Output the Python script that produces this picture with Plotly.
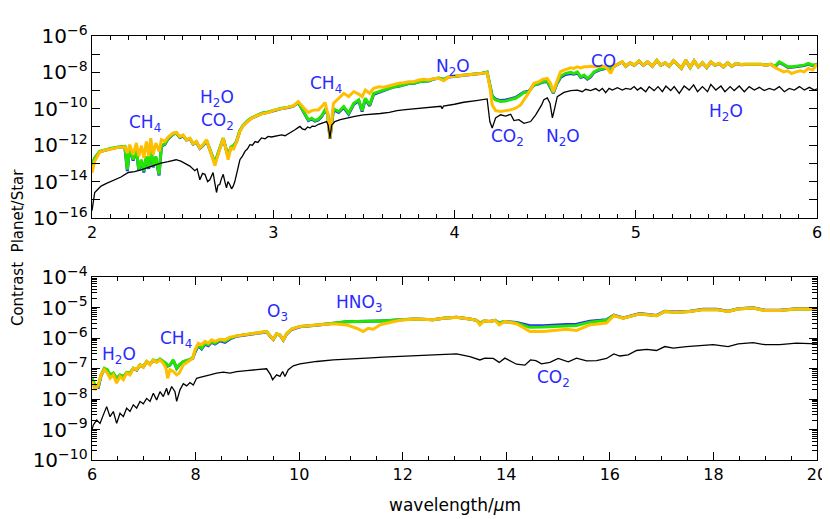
import numpy as np
import plotly.graph_objects as go

# ---- upper panel, 2-6 um (values are log10 of contrast) ----
top_wave = [2.000, 2.015, 2.042, 2.070, 2.107, 2.144, 2.181, 2.195, 2.208, 2.227,
            2.245, 2.258, 2.273, 2.286, 2.300, 2.313, 2.324, 2.337, 2.352, 2.370,
            2.383, 2.402, 2.420, 2.448, 2.466, 2.484, 2.503, 2.521, 2.540, 2.558,
            2.576, 2.595, 2.613, 2.632, 2.650, 2.663, 2.678, 2.696, 2.711, 2.724,
            2.737, 2.751, 2.766, 2.781, 2.797, 2.816, 2.834, 2.858, 2.880, 2.908,
            2.936, 2.972, 3.009, 3.046, 3.083, 3.111, 3.138, 3.157, 3.175, 3.194,
            3.212, 3.230, 3.249, 3.267, 3.286, 3.300, 3.313, 3.332, 3.361, 3.389,
            3.416, 3.444, 3.472, 3.490, 3.508, 3.532, 3.554, 3.582, 3.610, 3.637,
            3.665, 3.693, 3.720, 3.748, 3.775, 3.803, 3.831, 3.858, 3.886, 3.913,
            3.941, 3.969, 4.006, 4.042, 4.079, 4.116, 4.153, 4.180, 4.195, 4.208,
            4.227, 4.254, 4.282, 4.309, 4.337, 4.365, 4.383, 4.410, 4.438, 4.466,
            4.485, 4.512, 4.530, 4.545, 4.564, 4.586, 4.613, 4.641, 4.659, 4.678,
            4.696, 4.715, 4.733, 4.751, 4.770, 4.798, 4.825, 4.843, 4.862, 4.880,
            4.908, 4.926, 4.945, 4.969, 4.991, 5.018, 5.042, 5.065, 5.092, 5.116,
            5.138, 5.162, 5.184, 5.208, 5.230, 5.252, 5.276, 5.300, 5.322, 5.346,
            5.368, 5.392, 5.414, 5.438, 5.460, 5.484, 5.507, 5.530, 5.553, 5.580,
            5.608, 5.635, 5.663, 5.691, 5.718, 5.746, 5.768, 5.792, 5.816, 5.838,
            5.860, 5.884, 5.908, 5.930, 5.952, 5.976, 6.000]

top_gold = [-13.52, -12.88, -12.39, -12.28, -12.21, -12.12, -12.10, -12.43, -11.97, -12.52,
            -11.88, -12.61, -12.03, -12.70, -11.79, -12.61, -11.61, -12.52, -11.88, -12.34,
            -11.70, -11.79, -11.55, -11.33, -11.30, -11.52, -11.43, -11.70, -11.61, -11.92,
            -11.79, -12.15, -11.97, -11.70, -12.25, -12.61, -13.12, -12.52, -12.06, -11.61,
            -12.15, -12.79, -12.15, -12.21, -11.84, -11.24, -10.93, -10.70, -10.52, -10.39,
            -10.28, -10.21, -10.06, -9.99, -9.91, -9.84, -9.60, -9.84, -10.02, -10.21,
            -10.10, -10.06, -10.06, -9.88, -9.66, -10.24, -11.61, -9.70, -9.42, -9.15,
            -9.33, -9.06, -9.19, -9.33, -8.97, -9.15, -8.88, -8.79, -8.82, -8.75,
            -8.64, -8.60, -8.57, -8.51, -8.51, -8.42, -8.38, -8.42, -8.33, -8.33,
            -8.46, -8.24, -8.20, -8.17, -8.13, -8.09, -8.06, -8.02, -8.79, -9.79,
            -10.10, -10.15, -10.10, -10.06, -9.97, -9.79, -9.51, -9.11, -8.60, -8.51,
            -8.38, -8.33, -8.60, -9.06, -8.51, -7.95, -7.85, -7.75, -7.78, -7.69,
            -7.75, -7.69, -7.69, -7.66, -7.69, -7.66, -7.66, -7.78, -8.06, -7.66,
            -7.51, -7.42, -7.66, -7.47, -7.60, -7.38, -7.60, -7.42, -7.66, -7.33,
            -7.60, -7.47, -7.66, -7.36, -7.55, -7.78, -7.33, -7.73, -7.36, -7.69,
            -7.47, -7.73, -7.42, -7.60, -7.51, -7.69, -7.47, -7.66, -7.51, -7.57,
            -7.55, -7.55, -7.51, -7.55, -7.60, -7.55, -7.73, -7.87, -7.97, -7.91,
            -8.06, -7.97, -7.91, -7.97, -7.78, -7.87, -7.55]

top_green = [-13.06, -12.70, -12.34, -12.25, -12.17, -12.10, -12.06, -13.34, -12.10, -12.79,
             -12.21, -13.34, -12.79, -13.43, -12.61, -13.25, -12.03, -13.16, -12.61, -13.61,
             -12.03, -11.92, -11.63, -11.37, -11.33, -11.55, -11.48, -11.70, -11.63, -11.92,
             -11.81, -12.15, -11.99, -11.74, -12.25, -12.61, -12.97, -12.43, -12.03, -11.61,
             -12.10, -12.61, -12.10, -12.03, -11.79, -11.19, -10.90, -10.66, -10.50, -10.35,
             -10.24, -10.17, -10.06, -9.97, -9.91, -9.84, -9.64, -9.97, -10.33, -10.61,
             -10.52, -10.64, -10.57, -10.39, -10.06, -10.24, -11.61, -10.00, -10.15, -9.88,
             -10.24, -9.70, -9.51, -10.10, -9.42, -9.79, -9.15, -9.06, -8.97, -8.88,
             -8.79, -8.75, -8.69, -8.60, -8.60, -8.51, -8.48, -8.46, -8.35, -8.31,
             -8.38, -8.24, -8.20, -8.17, -8.13, -8.09, -8.04, -7.98, -8.79, -9.33,
             -9.51, -9.60, -9.57, -9.51, -9.42, -9.24, -9.11, -9.06, -8.69, -8.60,
             -8.51, -8.46, -8.79, -9.11, -8.60, -8.20, -8.05, -8.00, -8.06, -7.97,
             -8.24, -8.15, -8.33, -8.20, -7.97, -7.84, -7.78, -7.69, -7.78, -7.66,
             -7.51, -7.42, -7.66, -7.47, -7.60, -7.38, -7.60, -7.42, -7.66, -7.33,
             -7.60, -7.47, -7.66, -7.36, -7.55, -7.78, -7.33, -7.73, -7.36, -7.69,
             -7.47, -7.73, -7.42, -7.60, -7.51, -7.69, -7.47, -7.66, -7.51, -7.57,
             -7.55, -7.55, -7.51, -7.55, -7.60, -7.55, -7.66, -7.42, -7.55, -7.69,
             -7.69, -7.66, -7.62, -7.60, -7.51, -7.60, -7.55]

top_blue = [-13.10, -12.72, -12.36, -12.27, -12.19, -12.12, -12.08, -13.43, -12.12, -12.85,
            -12.24, -13.40, -12.83, -13.50, -12.66, -13.30, -12.06, -13.22, -12.66, -13.66,
            -12.06, -11.95, -11.65, -11.39, -11.35, -11.57, -11.50, -11.72, -11.65, -11.94,
            -11.83, -12.17, -12.01, -11.76, -12.27, -12.63, -12.99, -12.45, -12.05, -11.63,
            -12.12, -12.63, -12.12, -12.05, -11.81, -11.21, -10.92, -10.68, -10.52, -10.37,
            -10.26, -10.19, -10.08, -9.99, -9.93, -9.86, -9.66, -10.00, -10.37, -10.65,
            -10.56, -10.68, -10.61, -10.43, -10.10, -10.28, -11.65, -10.05, -10.20, -9.93,
            -10.30, -9.75, -9.56, -10.15, -9.47, -9.84, -9.20, -9.10, -9.00, -8.90,
            -8.80, -8.76, -8.70, -8.61, -8.61, -8.52, -8.49, -8.47, -8.36, -8.32,
            -8.39, -8.25, -8.21, -8.18, -8.14, -8.10, -8.05, -7.99, -8.79, -9.30,
            -9.47, -9.55, -9.52, -9.47, -9.38, -9.20, -9.08, -9.03, -8.70, -8.63,
            -8.54, -8.50, -8.82, -9.14, -8.64, -8.26, -8.11, -8.06, -8.10, -8.02,
            -8.28, -8.20, -8.37, -8.25, -8.00, -7.87, -7.80, -7.71, -7.80, -7.67,
            -7.52, -7.43, -7.67, -7.48, -7.61, -7.39, -7.61, -7.43, -7.67, -7.34,
            -7.61, -7.48, -7.67, -7.37, -7.56, -7.79, -7.34, -7.74, -7.37, -7.70,
            -7.48, -7.74, -7.43, -7.61, -7.52, -7.70, -7.48, -7.67, -7.52, -7.58,
            -7.56, -7.56, -7.52, -7.56, -7.61, -7.56, -7.69, -7.45, -7.58, -7.72,
            -7.72, -7.69, -7.65, -7.63, -7.54, -7.63, -7.57]

# black curve (wavelength, log10 contrast)
top_black = [(2.000, -15.6), (2.008, -15.0), (2.015, -14.6), (2.030, -14.45), (2.050, -14.25),
             (2.080, -14.1), (2.125, -13.9), (2.160, -13.75), (2.200, -13.5), (2.235, -13.45),
             (2.270, -13.35), (2.310, -13.2), (2.346, -13.07), (2.380, -12.98), (2.420, -12.9),
             (2.464, -12.8), (2.490, -12.88), (2.510, -13.0), (2.540, -13.15), (2.567, -13.4),
             (2.580, -13.3), (2.595, -13.9), (2.610, -13.55), (2.623, -13.6), (2.638, -14.0),
             (2.650, -13.9), (2.668, -13.5), (2.678, -14.1), (2.687, -14.6), (2.695, -14.2),
             (2.705, -14.16), (2.714, -13.85), (2.724, -13.6), (2.733, -14.0), (2.742, -14.35),
             (2.750, -14.0), (2.760, -14.16), (2.770, -14.4), (2.779, -14.25), (2.788, -14.0),
             (2.797, -13.6), (2.806, -13.3), (2.816, -12.8), (2.830, -12.6), (2.844, -12.34),
             (2.858, -12.2), (2.871, -11.97), (2.885, -12.0), (2.900, -11.8), (2.915, -11.85),
             (2.935, -11.6), (2.955, -11.65), (2.972, -11.52), (2.990, -11.55), (3.010, -11.5),
             (3.028, -11.47), (3.046, -11.43), (3.065, -11.48), (3.083, -11.38), (3.100, -11.3),
             (3.120, -11.15), (3.135, -11.05), (3.147, -10.97), (3.160, -11.1), (3.175, -11.15),
             (3.190, -11.0), (3.203, -11.06), (3.215, -10.95), (3.230, -10.97), (3.250, -10.85),
             (3.267, -10.8), (3.280, -10.75), (3.294, -10.7), (3.303, -10.9), (3.313, -11.6),
             (3.322, -10.9), (3.340, -10.7), (3.370, -10.6), (3.407, -10.5), (3.450, -10.42),
             (3.497, -10.33), (3.550, -10.3), (3.590, -10.26), (3.640, -10.2), (3.683, -10.1),
             (3.730, -10.05), (3.773, -10.0), (3.820, -9.95), (3.867, -9.9), (3.925, -9.86),
             (3.932, -10.0), (3.939, -9.85), (4.000, -9.75), (4.051, -9.64), (4.120, -9.55),
             (4.180, -9.46), (4.195, -10.7), (4.208, -11.06), (4.227, -10.5), (4.254, -10.33),
             (4.282, -10.4), (4.310, -10.3), (4.328, -10.65), (4.355, -10.6), (4.383, -10.8),
             (4.420, -10.7), (4.448, -10.33), (4.466, -10.04), (4.480, -9.8), (4.493, -9.5),
             (4.512, -9.4), (4.527, -9.7), (4.540, -10.5), (4.552, -10.0), (4.567, -9.33),
             (4.604, -9.1), (4.641, -9.00), (4.678, -8.97), (4.705, -9.06), (4.724, -8.93),
             (4.751, -9.00), (4.779, -8.89), (4.798, -9.02), (4.816, -8.88), (4.834, -9.11),
             (4.853, -8.88), (4.871, -8.97), (4.899, -8.84), (4.926, -8.97), (4.945, -8.88),
             (4.972, -8.93), (4.991, -8.78), (5.009, -8.97), (5.028, -8.84), (5.055, -9.06),
             (5.074, -8.78), (5.101, -9.00), (5.123, -8.78), (5.147, -9.06), (5.166, -8.75),
             (5.193, -9.00), (5.212, -8.78), (5.240, -9.15), (5.267, -8.75), (5.295, -8.97),
             (5.319, -8.69), (5.341, -9.06), (5.368, -8.78), (5.396, -9.06), (5.414, -8.66),
             (5.442, -8.97), (5.470, -8.75), (5.492, -9.06), (5.521, -8.78), (5.543, -9.00),
             (5.571, -8.75), (5.599, -9.06), (5.626, -8.78), (5.654, -8.97), (5.682, -8.82),
             (5.709, -9.00), (5.737, -8.88), (5.764, -8.97), (5.792, -8.78), (5.820, -9.06),
             (5.847, -8.88), (5.875, -8.97), (5.903, -8.78), (5.930, -8.97), (5.958, -8.82),
             (5.985, -8.97), (6.000, -8.90)]

# ---- lower panel, 6-20 um ----
bot_wave = [6.000, 6.058, 6.122, 6.174, 6.238, 6.296, 6.348, 6.412, 6.476, 6.541,
            6.605, 6.669, 6.734, 6.798, 6.862, 6.927, 6.991, 7.055, 7.120, 7.184,
            7.248, 7.313, 7.377, 7.429, 7.461, 7.506, 7.570, 7.635, 7.686, 7.763,
            7.860, 7.944, 7.988, 8.053, 8.117, 8.181, 8.246, 8.310, 8.375, 8.471,
            8.568, 8.664, 8.793, 8.922, 9.050, 9.211, 9.372, 9.449, 9.501, 9.565,
            9.630, 9.694, 9.758, 9.855, 10.016, 10.337, 10.659, 10.917, 11.109, 11.238,
            11.335, 11.431, 11.560, 11.753, 11.946, 12.250, 12.396, 12.589, 12.783, 13.040,
            13.297, 13.426, 13.490, 13.568, 13.683, 13.780, 13.864, 13.973, 14.198, 14.455,
            14.713, 14.970, 15.163, 15.357, 15.614, 15.936, 16.077, 16.258, 16.579, 16.901,
            17.062, 17.287, 17.545, 17.802, 18.059, 18.284, 18.477, 18.767, 18.992, 19.282,
            19.603, 20.000]

bot_gold = [-7.43, -7.70, -7.54, -7.21, -7.04, -7.15, -7.32, -7.21, -7.48, -7.26,
            -7.37, -7.15, -7.21, -6.99, -7.04, -6.88, -6.96, -6.77, -6.88, -6.72,
            -6.80, -6.72, -6.83, -6.99, -7.32, -7.04, -7.10, -7.21, -7.15, -6.88,
            -6.77, -6.66, -6.39, -6.17, -6.22, -6.11, -6.17, -6.06, -6.11, -6.04,
            -6.06, -5.97, -5.93, -5.90, -5.86, -5.82, -5.79, -5.95, -6.04, -5.86,
            -5.90, -6.06, -5.86, -5.71, -5.62, -5.57, -5.53, -5.57, -5.68, -5.79,
            -5.68, -5.71, -5.57, -5.49, -5.42, -5.38, -5.38, -5.40, -5.35, -5.32,
            -5.38, -5.42, -5.57, -5.44, -5.46, -5.42, -5.57, -5.46, -5.53, -5.79,
            -5.79, -5.75, -5.71, -5.75, -5.57, -5.51, -5.27, -5.35, -5.21, -5.27,
            -5.13, -5.16, -5.13, -5.07, -5.07, -5.13, -5.05, -5.02, -5.10, -5.10,
            -5.05, -5.05]

bot_green = [-7.32, -7.54, -7.59, -7.21, -6.99, -7.04, -7.21, -7.15, -7.32, -7.21,
             -7.26, -7.13, -7.15, -6.99, -7.04, -6.88, -6.94, -6.77, -6.85, -6.72,
             -6.77, -6.69, -6.77, -6.83, -6.91, -6.88, -6.72, -6.99, -6.88, -6.77,
             -6.72, -6.66, -6.44, -6.22, -6.33, -6.17, -6.22, -6.11, -6.17, -6.06,
             -6.11, -6.01, -5.93, -5.90, -5.86, -5.82, -5.79, -5.95, -6.04, -5.86,
             -5.90, -6.06, -5.86, -5.71, -5.62, -5.57, -5.51, -5.47, -5.46, -5.46,
             -5.46, -5.45, -5.44, -5.43, -5.40, -5.38, -5.38, -5.40, -5.35, -5.32,
             -5.38, -5.42, -5.51, -5.44, -5.46, -5.42, -5.51, -5.46, -5.51, -5.65,
             -5.64, -5.62, -5.60, -5.59, -5.48, -5.42, -5.26, -5.35, -5.21, -5.27,
             -5.13, -5.16, -5.13, -5.07, -5.07, -5.13, -5.05, -5.02, -5.10, -5.10,
             -5.05, -5.05]

bot_blue = [-7.34, -7.60, -7.62, -7.24, -7.02, -7.06, -7.23, -7.17, -7.34, -7.23,
            -7.28, -7.15, -7.17, -7.00, -7.05, -6.89, -6.95, -6.78, -6.86, -6.73,
            -6.78, -6.70, -6.78, -6.84, -6.92, -6.89, -6.73, -7.00, -6.89, -6.78,
            -6.73, -6.67, -6.47, -6.25, -6.36, -6.20, -6.25, -6.14, -6.20, -6.09,
            -6.14, -6.03, -5.94, -5.91, -5.87, -5.83, -5.80, -5.96, -6.05, -5.87,
            -5.91, -6.07, -5.87, -5.72, -5.63, -5.58, -5.51, -5.47, -5.46, -5.46,
            -5.46, -5.45, -5.44, -5.43, -5.40, -5.38, -5.38, -5.40, -5.35, -5.32,
            -5.38, -5.42, -5.51, -5.44, -5.46, -5.42, -5.51, -5.46, -5.49, -5.60,
            -5.60, -5.57, -5.56, -5.55, -5.45, -5.40, -5.25, -5.34, -5.20, -5.26,
            -5.12, -5.15, -5.12, -5.06, -5.06, -5.12, -5.04, -5.01, -5.09, -5.09,
            -5.04, -5.04]

bot_black = [(6.000, -9.0), (6.026, -8.85), (6.090, -8.69), (6.155, -8.80), (6.219, -8.52),
             (6.283, -8.25), (6.348, -8.58), (6.412, -8.41), (6.476, -8.80), (6.541, -8.47),
             (6.605, -8.58), (6.669, -8.30), (6.734, -8.41), (6.798, -8.19), (6.862, -8.30),
             (6.927, -8.08), (6.991, -8.16), (7.055, -7.98), (7.120, -8.08), (7.184, -7.81),
             (7.248, -8.03), (7.313, -7.76), (7.377, -7.92), (7.441, -7.65), (7.474, -7.87),
             (7.538, -7.59), (7.602, -7.76), (7.635, -8.08), (7.699, -7.70), (7.763, -7.50),
             (7.828, -7.57), (7.892, -7.46), (7.956, -7.54), (8.020, -7.32), (8.085, -7.29),
             (8.181, -7.26), (8.278, -7.21), (8.407, -7.15), (8.536, -7.12), (8.664, -7.15),
             (8.793, -7.10), (8.986, -7.07), (9.179, -7.04), (9.372, -7.01), (9.449, -7.21),
             (9.488, -7.37), (9.565, -7.21), (9.630, -7.26), (9.681, -7.10), (9.726, -7.26),
             (9.790, -7.04), (9.887, -6.91), (10.016, -6.85), (10.337, -6.77), (10.659, -6.72),
             (10.981, -6.68), (11.303, -6.66), (11.624, -6.63), (11.946, -6.61), (12.268, -6.57),
             (12.525, -6.57), (13.040, -6.52), (13.297, -6.61), (13.490, -6.72), (13.587, -6.66),
             (13.748, -6.67), (13.864, -6.80), (13.973, -6.66), (14.198, -6.86), (14.359, -6.89),
             (14.468, -6.72), (14.571, -6.74), (14.681, -6.85), (14.842, -6.80), (15.003, -6.67),
             (15.196, -6.78), (15.357, -6.66), (15.550, -6.75), (15.743, -6.74), (15.936, -6.67),
             (16.077, -6.52), (16.193, -6.59), (16.354, -6.55), (16.515, -6.41), (16.708, -6.37),
             (16.901, -6.41), (17.062, -6.28), (17.223, -6.33), (17.480, -6.28), (17.737, -6.26),
             (17.995, -6.22), (18.284, -6.28), (18.477, -6.19), (18.767, -6.15), (18.992, -6.22),
             (19.282, -6.22), (19.603, -6.17), (20.000, -6.19)]

# molecule labels: (text, wavelength, log10 contrast)
top_labels = [("CH<sub>4</sub>", 2.293, -10.83), ("H<sub>2</sub>O", 2.69, -9.46),
              ("CO<sub>2</sub>", 2.69, -10.72), ("CH<sub>4</sub>", 3.293, -8.69),
              ("N<sub>2</sub>O", 3.994, -7.71), ("CO<sub>2</sub>", 4.293, -11.59),
              ("N<sub>2</sub>O", 4.597, -11.59), ("CO", 4.823, -7.38),
              ("H<sub>2</sub>O", 5.497, -10.22)]
bot_labels = [("H<sub>2</sub>O", 6.52, -6.58), ("CH<sub>4</sub>", 7.62, -6.06),
              ("O<sub>3</sub>", 9.59, -5.17), ("HNO<sub>3</sub>", 11.15, -4.88),
              ("CO<sub>2</sub>", 14.92, -7.34)]

assert len(top_wave) == len(top_gold) == len(top_green) == len(top_blue)
assert len(bot_wave) == len(bot_gold) == len(bot_green) == len(bot_blue)

BLUE = '#2a2aff'
GREEN = '#22e600'
GOLD = '#ffbf00'
FONT = 'DejaVu Sans'

fig = go.Figure()
for xs, ys, xa, ya in [(top_wave, (top_blue, top_green, top_gold), 'x', 'y'),
                       (bot_wave, (bot_blue, bot_green, bot_gold), 'x2', 'y2')]:
    for y, col in zip(ys, (BLUE, GREEN, GOLD)):
        fig.add_trace(go.Scatter(x=xs, y=10 ** np.array(y), mode='lines',
                                 line=dict(color=col, width=3), xaxis=xa, yaxis=ya))

for pts, xa, ya in [(top_black, 'x', 'y'), (bot_black, 'x2', 'y2')]:
    wx, wy = zip(*pts)
    fig.add_trace(go.Scatter(x=wx, y=10 ** np.array(wy), mode='lines',
                             line=dict(color='black', width=1.3), xaxis=xa, yaxis=ya))

ax = dict(showline=True, linecolor='black', linewidth=1.3, mirror='allticks',
          ticks='inside', tickcolor='black', showgrid=False, zeroline=False,
          automargin=False, tickfont=dict(family=FONT, size=16, color='black'))
logax = dict(type='log', exponentformat='power', showexponent='all')
minor_tk = dict(ticks='inside', tickcolor='black', showgrid=False)

# the page body adds an 8px offset, so the figure is 8px smaller than the window
fig.update_layout(
    width=822, height=511, showlegend=False,
    paper_bgcolor='white', plot_bgcolor='white',
    margin=dict(l=84, r=13, t=28, b=59, autoexpand=False),
    xaxis=dict(ax, domain=[0, 1], anchor='y', range=[2, 6],
               tickmode='linear', tick0=2, dtick=1, ticklen=8,
               minor=dict(minor_tk, dtick=0.1, ticklen=4)),
    yaxis=dict(ax, **logax, domain=[0.5708, 1], anchor='x', range=[-16, -6],
               tickmode='linear', tick0=0, dtick=2, ticklen=8,
               minor=dict(minor_tk, dtick=1, ticklen=8)),
    xaxis2=dict(ax, domain=[0, 1], anchor='y2', range=[6, 20],
                tickmode='linear', tick0=6, dtick=2, ticklen=8,
                minor=dict(minor_tk, dtick=0.5, ticklen=4)),
    yaxis2=dict(ax, **logax, domain=[0, 0.4316], anchor='x2', range=[-10, -4],
                tickmode='linear', tick0=0, dtick=1, ticklen=8,
                minor=dict(minor_tk, dtick='D1', ticklen=5)),
)

anns = []
for labs, xr, yr in [(top_labels, 'x', 'y'), (bot_labels, 'x2', 'y2')]:
    for t, x, y in labs:
        anns.append(dict(text=t, x=x, y=y, xref=xr, yref=yr, showarrow=False,
                         font=dict(family=FONT, size=17, color=BLUE)))
anns.append(dict(text='Contrast\u00a0\u00a0Planet/Star', x=-0.102, y=0.5,
                 xref='paper', yref='paper', xanchor='center', yanchor='middle',
                 textangle=-90, showarrow=False,
                 font=dict(family=FONT, size=15, color='black')))
anns.append(dict(text='wavelength/<i>\u03bc</i>m', x=0.5, y=-0.106, xref='paper', yref='paper',
                 xanchor='center', yanchor='middle', showarrow=False,
                 font=dict(family=FONT, size=17, color='black')))
fig.update_layout(annotations=anns)

fig.write_html("out.html")
